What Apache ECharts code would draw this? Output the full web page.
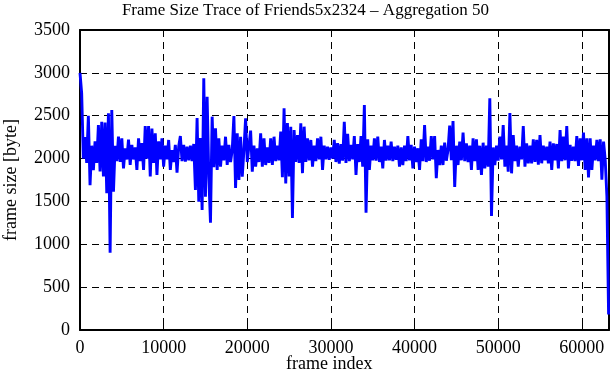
<!DOCTYPE html>
<html><head><meta charset="utf-8">
<script src="https://cdn.jsdelivr.net/npm/echarts@6/dist/echarts.min.js"></script>
<style>html,body{margin:0;padding:0;background:#fff}#c{width:611px;height:380px}</style>
</head><body><div id="c"></div>
<script>
const TITLE = 'Frame Size Trace of Friends5x2324 – Aggregation 50';
const X_NAME = 'frame index';
const Y_NAME = 'frame size [byte]';
const FRAME_STEP = 200;
const X_MAX = 63250;
const xTicks = [0, 10000, 20000, 30000, 40000, 50000, 60000];
const yTicks = [0, 500, 1000, 1500, 2000, 2500, 3000, 3500];
const frameSizes = [
3000,2760,2000,2250,1950, 2500,1690,2150,1865,2200,
1950,2390,1850,2430,1790, 2420,1595,2528,902,2567,
1614,2150,1970,2255,1960, 2236,1886,2120,1990,2220,
1925,2160,1990,2130,1867, 2236,1970,2180,1867,2380,
2000,2380,1790,2350,1950, 2295,1808,2200,1990,2236,
1905,2150,1990,2217,1867, 2100,1960,2160,1836,2140,
2263,1970,2160,1965,2140, 1980,2150,1970,2170,1633,
2473,1497,2240,1400,2936, 1555,2722,1790,1252,2489,
1900,2353,1867,2236,1905, 2150,1980,2255,1925,2160,
1960,2100,2497,1657,2295, 1750,2255,1790,2100,2470,
1960,2150,2326,1848,2150, 1905,2120,1960,2295,1905,
2236,1925,2130,1950,2236, 1925,2255,1970,2150,1980,
2314,1783,2586,1711,2415, 1790,2372,1307,2333,1960,
2275,1950,2411,1830,2372, 1960,2236,1980,2217,1905,
2150,1970,2236,1990,2255, 1867,2150,1990,2140,1985,
2130,2000,2217,1960,2180, 1940,2170,1975,2430,1950,
2290,1970,2160,1990,2263, 1808,2170,1960,2263,1905,
2625,1369,2225,1867,2150, 1980,2236,1975,2255,1960,
2140,1886,2217,1975,2150, 1980,2197,1970,2140,1985,
2150,1905,2130,1925,2150, 1970,2263,1980,2160,1886,
2140,1960,2120,1867,2224, 1970,2392,1960,2140,1975,
2263,1990,2263,1770,2100, 1925,2150,1925,2185,1975,
2100,2385,1980,2438,1668, 2150,1925,2197,1980,2302,
1970,2178,1960,2150,1867, 2236,1970,2224,1867,2150,
1808,2185,1886,2150,1905, 2703,1330,2130,1925,2150,
1975,2255,1990,2392,1905, 2150,1848,2530,1828,2275,
1970,2150,1905,2140,1990, 2380,1905,2178,1945,2150,
1945,2224,1960,2217,1930, 2275,1945,2150,1980,2140,
1945,2197,1867,2178,1980, 2170,1886,2333,1970,2255,
1980,2380,1886,2160,1975, 2140,1970,2263,1915,2236,
1980,2302,1867,2236,1780, 2236,1867,2150,1980,2217,
1970,2224,1755,2197,1980, 1555,180
];

const FONT = "'Liberation Serif','Times New Roman',serif";
const chart = echarts.init(document.getElementById('c'), null, {renderer: 'canvas'});
const seriesData = frameSizes.map((v, i) => [i * FRAME_STEP, v]);
const black = '#000';
const axisLbl = {color: black, fontFamily: FONT, fontSize: 18, formatter: v => String(v)};
const tick = {show: true, inside: true, length: 6, lineStyle: {color: black, width: 1}};
const split = {show: true, lineStyle: {color: black, width: 1, type: [7, 5]}};
chart.setOption({
  animation: false,
  backgroundColor: '#fff',
  title: {text: TITLE, left: 'center', top: -3, textStyle: {fontFamily: FONT, fontSize: 17, fontWeight: 'normal', color: black}},
  grid: {left: 80, right: 2, top: 30, bottom: 50, show: false, containLabel: false, outerBoundsMode: 'none'},
  xAxis: [
    {type: 'value', min: xTicks[0], max: X_MAX, interval: xTicks[1] - xTicks[0], position: 'bottom',
     axisLine: {show: true, onZero: false, lineStyle: {color: black, width: 2}}, axisTick: tick,
     axisLabel: Object.assign({}, axisLbl, {margin: 9, showMaxLabel: false}), splitLine: split},
    {type: 'value', min: xTicks[0], max: X_MAX, interval: xTicks[1] - xTicks[0], position: 'top',
     axisLine: {show: true, onZero: false, lineStyle: {color: black, width: 2}}, axisTick: tick,
     axisLabel: {show: false}, splitLine: {show: false}}
  ],
  yAxis: [
    {type: 'value', min: yTicks[0], max: yTicks[yTicks.length - 1], interval: yTicks[1] - yTicks[0], position: 'left',
     axisLine: {show: true, onZero: false, lineStyle: {color: black, width: 2}}, axisTick: tick,
     axisLabel: Object.assign({}, axisLbl, {margin: 10}), splitLine: split,
     name: Y_NAME, nameLocation: 'middle', nameGap: 60, nameRotate: 90,
     nameTextStyle: {fontFamily: FONT, fontSize: 18, color: black}},
    {type: 'value', min: yTicks[0], max: yTicks[yTicks.length - 1], interval: yTicks[1] - yTicks[0], position: 'right',
     axisLine: {show: true, onZero: false, lineStyle: {color: black, width: 2}}, axisTick: tick,
     axisLabel: {show: false}, splitLine: {show: false}}
  ],
  graphic: [{type: 'text', left: 331 - 45, top: 355,
    style: {text: X_NAME, font: "18px 'Liberation Serif','Times New Roman',serif", fill: black, width: 90, align: 'center'}}],
  series: [{type: 'line', xAxisIndex: 0, yAxisIndex: 0, data: seriesData, showSymbol: false, symbol: 'none',
    lineStyle: {color: '#0000ff', width: 2.9, join: 'bevel'}, itemStyle: {color: '#0000ff'}, clip: true}]
});
</script></body></html>
